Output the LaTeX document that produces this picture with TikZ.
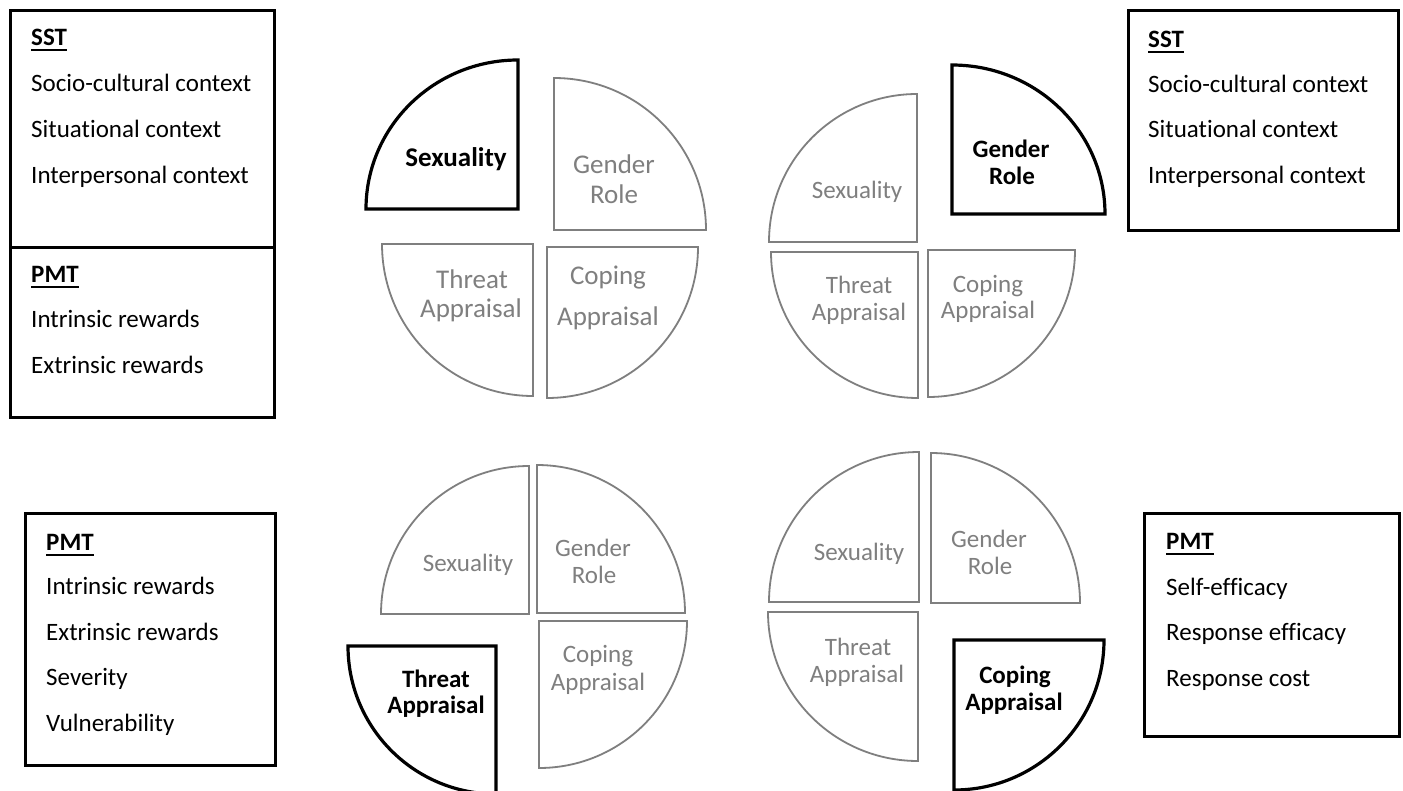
\documentclass[tikz,border=0pt]{standalone}
\usepackage{fontspec}
\setmainfont{Carlito}[Ligatures=NoCommon]
\definecolor{qgray}{HTML}{7F7F7F}
\newcommand\qsex[5]{\draw[#1] (#2,-#3) -- ++(0,#5) arc[start angle=90,end angle=180,x radius=#4,y radius=#5] -- cycle;}
\newcommand\qgen[5]{\draw[#1] (#2,-#3) -- ++(#4,0) arc[start angle=0,end angle=90,x radius=#4,y radius=#5] -- cycle;}
\newcommand\qthr[5]{\draw[#1] (#2,-#3) -- ++(-#4,0) arc[start angle=180,end angle=270,x radius=#4,y radius=#5] -- cycle;}
\newcommand\qcop[5]{\draw[#1] (#2,-#3) -- ++(0,-#5) arc[start angle=270,end angle=360,x radius=#4,y radius=#5] -- cycle;}
\tikzset{
  qg/.style={draw=qgray,line width=1.8},
  qb/.style={draw=black,line width=3.2},
  boxframe/.style={draw=black,line width=3},
  boxtxt/.style={anchor=base west,inner sep=0pt,font=\fontsize{25}{30}\selectfont},
  boxhead/.style={boxtxt,font=\fontsize{25}{30}\selectfont\bfseries},
  lbig/.style={anchor=base,inner sep=0pt,text=qgray,font=\fontsize{27}{32}\selectfont},
  lbigb/.style={anchor=base,inner sep=0pt,text=black,font=\fontsize{27}{32}\selectfont\bfseries},
  lsm/.style={anchor=base,inner sep=0pt,text=qgray,font=\fontsize{25}{30}\selectfont},
  lsmb/.style={anchor=base,inner sep=0pt,text=black,font=\fontsize{25}{30}\selectfont\bfseries},
  uline/.style={line width=2}
}
\begin{document}
\begin{tikzpicture}[x=1pt,y=1pt]
\useasboundingbox (0,0) rectangle (1403,-790);
\clip (0,0) rectangle (1403,-790);
\fill[white] (0,0) rectangle (1403,-790);

% ---------- top-left boxes ----------
\draw[boxframe] (10,-10) rectangle (274,-247);
\draw[boxframe] (10,-247) rectangle (274,-417);
\node[boxhead] (b1h) at (31,-45) {SST};
\draw[uline] ([yshift=-4.5]b1h.base west) -- ([yshift=-4.5]b1h.base east);
\node[boxtxt] (b1a) at (31,-91) {Socio-cultural context};
\node[boxtxt] (b1b) at (31,-137) {Situational context};
\node[boxtxt] (b1c) at (31,-183) {Interpersonal context};
\node[boxhead] (b2h) at (31,-282) {PMT};
\draw[uline] ([yshift=-4.5]b2h.base west) -- ([yshift=-4.5]b2h.base east);
\node[boxtxt] (b2a) at (31,-327) {Intrinsic rewards};
\node[boxtxt] (b2b) at (31,-373) {Extrinsic rewards};

% ---------- top-right box ----------
\draw[boxframe] (1128,-10) rectangle (1398,-230);
\node[boxhead] (b3h) at (1148,-47) {SST};
\draw[uline] ([yshift=-4.5]b3h.base west) -- ([yshift=-4.5]b3h.base east);
\node[boxtxt] (b3a) at (1148,-92) {Socio-cultural context};
\node[boxtxt] (b3b) at (1148,-137) {Situational context};
\node[boxtxt] (b3c) at (1148,-183) {Interpersonal context};

% ---------- bottom-left box ----------
\draw[boxframe] (25,-513) rectangle (275,-765);
\node[boxhead] (b4h) at (46,-550) {PMT};
\draw[uline] ([yshift=-4.5]b4h.base west) -- ([yshift=-4.5]b4h.base east);
\node[boxtxt] (b4a) at (46,-594) {Intrinsic rewards};
\node[boxtxt] (b4b) at (46,-640) {Extrinsic rewards};
\node[boxtxt] (b4c) at (46,-685) {Severity};
\node[boxtxt] (b4d) at (46,-731) {Vulnerability};

% ---------- bottom-right box ----------
\draw[boxframe] (1144,-513) rectangle (1399,-736);
\node[boxhead] (b5h) at (1166,-549) {PMT};
\draw[uline] ([yshift=-4.5]b5h.base west) -- ([yshift=-4.5]b5h.base east);
\node[boxtxt] (b5a) at (1166,-595) {Self-efficacy};
\node[boxtxt] (b5b) at (1166,-640) {Response efficacy};
\node[boxtxt] (b5c) at (1166,-686) {Response cost};

% ---------- pie 1 (top-left): Sexuality highlighted ----------
\qsex{qb}{518}{209}{152}{149}
\qgen{qg}{554}{230}{152}{152}
\qthr{qg}{533}{244}{151}{152}
\qcop{qg}{547}{247}{151}{151}
\node[lbigb] (p1s) at (456,-166) {Sexuality};
\node[lbig] (p1g1) at (614,-173) {Gender};
\node[lbig] (p1g2) at (614,-203) {Role};
\node[lbig] (p1t1) at (472,-288) {Threat};
\node[lbig] (p1t2) at (471,-317) {Appraisal};
\node[lbig] (p1c1) at (608,-284) {Coping};
\node[lbig] (p1c2) at (608,-325) {Appraisal};

% ---------- pie 2 (top-right): Gender Role highlighted ----------
\qsex{qg}{917}{242}{148}{148}
\qgen{qb}{952}{214}{153}{149}
\qthr{qg}{918}{252}{147}{146}
\qcop{qg}{928}{250}{147}{147}
\node[lsm] (p2s) at (857,-198) {Sexuality};
\node[lsmb] (p2g1) at (1011,-157) {Gender};
\node[lsmb] (p2g2) at (1012,-184) {Role};
\node[lsm] (p2t1) at (859,-293) {Threat};
\node[lsm] (p2t2) at (859,-320) {Appraisal};
\node[lsm] (p2c1) at (988,-292) {Coping};
\node[lsm] (p2c2) at (988,-318) {Appraisal};

% ---------- pie 3 (bottom-left): Threat Appraisal highlighted ----------
\qsex{qg}{529}{614}{148}{148}
\qgen{qg}{537}{613}{148}{148}
\qthr{qb}{496}{646}{148}{148}
\qcop{qg}{539}{621}{148}{147}
\node[lsm] (p3s) at (468,-571) {Sexuality};
\node[lsm] (p3g1) at (593,-556) {Gender};
\node[lsm] (p3g2) at (594,-583) {Role};
\node[lsmb] (p3t1) at (436,-687) {Threat};
\node[lsmb] (p3t2) at (436,-713) {Appraisal};
\node[lsm] (p3c1) at (598,-662) {Coping};
\node[lsm] (p3c2) at (598,-690) {Appraisal};

% ---------- pie 4 (bottom-right): Coping Appraisal highlighted ----------
\qsex{qg}{919}{602}{150}{150}
\qgen{qg}{931}{603}{149}{150}
\qthr{qg}{918}{612}{150}{149}
\qcop{qb}{954}{640}{150}{150}
\node[lsm] (p4s) at (859,-560) {Sexuality};
\node[lsm] (p4g1) at (989,-547) {Gender};
\node[lsm] (p4g2) at (990,-574) {Role};
\node[lsm] (p4t1) at (858,-655) {Threat};
\node[lsm] (p4t2) at (857,-682) {Appraisal};
\node[lsmb] (p4c1) at (1015,-683) {Coping};
\node[lsmb] (p4c2) at (1014,-710) {Appraisal};
\end{tikzpicture}
\end{document}
